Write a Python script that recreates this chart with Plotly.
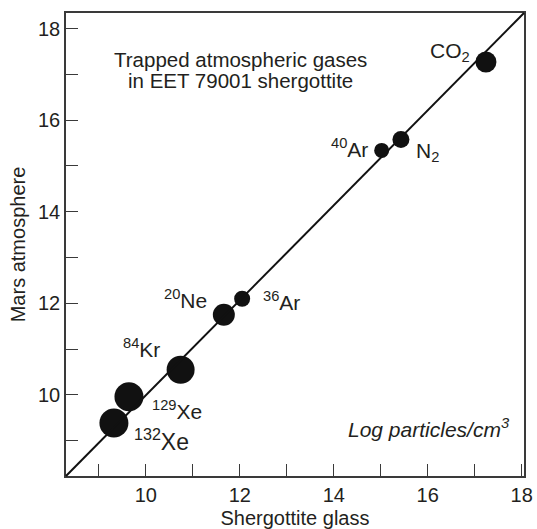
import plotly.graph_objects as go

# Log particles/cm^3 of trapped gases: shergottite glass vs. Mars atmosphere
species = ["<sup>132</sup>Xe", "<sup>129</sup>Xe", "<sup>84</sup>Kr", "<sup>20</sup>Ne",
           "<sup>36</sup>Ar", "<sup>40</sup>Ar", "N<sub>2</sub>", "CO<sub>2</sub>"]
glass = [9.32, 9.64, 10.74, 11.66, 12.05, 15.02, 15.43, 17.24]
atmosphere = [9.39, 9.96, 10.55, 11.75, 12.10, 15.34, 15.58, 17.27]

# marker diameters (px) and label offsets (px) per species
marker_px = [29, 29, 28, 22, 16, 15, 17, 21]
label_dx = [48, 48, -39, -38, 39, -32, 27, -36]
label_dy = [-17, -13, 22, 16, -2, 2, -13, 10]
label_size = [23, 21, 21, 21, 21, 21, 21, 21]

title_lines = ["Trapped atmospheric gases", "in EET 79001 shergottite"]

x_range = [8.3, 18.05]
y_range = [8.23, 18.34]
ink = "#231f20"
font_family = "Liberation Sans, Arial, Helvetica, sans-serif"

fig = go.Figure()
fig.add_trace(go.Scatter(
    x=glass, y=atmosphere, mode="markers",
    marker=dict(size=marker_px, color="#111111", opacity=1, line=dict(width=0)),
    hoverinfo="skip", showlegend=False,
))

# 1:1 line across the plotting area
fig.add_shape(type="line", xref="x domain", yref="y domain",
              x0=0, y0=0, x1=1, y1=1, line=dict(color="#111111", width=2))

for name, gx, ay, dx, dy, fs in zip(species, glass, atmosphere, label_dx, label_dy, label_size):
    fig.add_annotation(x=gx, y=ay, text=name, showarrow=False,
                       xshift=dx, yshift=dy, xanchor="center", yanchor="middle",
                       font=dict(size=fs, color=ink, family=font_family))

for i, line in enumerate(title_lines):
    fig.add_annotation(xref="x domain", yref="y domain", x=0.38, y=0.9 - i * 0.046,
                       text=line, showarrow=False, xanchor="center", yanchor="middle",
                       font=dict(size=20.5, color=ink, family=font_family))

fig.add_annotation(xref="x domain", yref="y domain", x=0.974, y=0.103,
                   text="<i>Log particles/cm<sup>3</sup></i>",
                   showarrow=False, xanchor="right", yanchor="middle",
                   font=dict(size=21, color=ink, family=font_family))

axis_common = dict(
    showgrid=False, zeroline=False, showline=True, mirror=True, automargin=False,
    linecolor="#3a3a3a", linewidth=1.5,
    ticks="inside", ticklen=12, tickwidth=1.2, tickcolor="#3a3a3a",
    dtick=2, tick0=0,
    minor=dict(ticks="inside", ticklen=12, tickwidth=1.2, tickcolor="#3a3a3a", dtick=1),
    tickfont=dict(size=20, color=ink, family=font_family),
)
fig.update_xaxes(range=x_range, title=dict(text="Shergottite glass", standoff=10,
                 font=dict(size=20, color=ink, family=font_family)), **axis_common)
fig.update_yaxes(range=y_range, title=dict(text="Mars atmosphere", standoff=7,
                 font=dict(size=20, color=ink, family=font_family)), **axis_common)

fig.update_layout(
    width=537, height=529,
    margin=dict(l=66, r=13, t=13, b=53),
    plot_bgcolor="white", paper_bgcolor="white",
    font=dict(family=font_family, color=ink),
)

fig.write_html("out.html")
